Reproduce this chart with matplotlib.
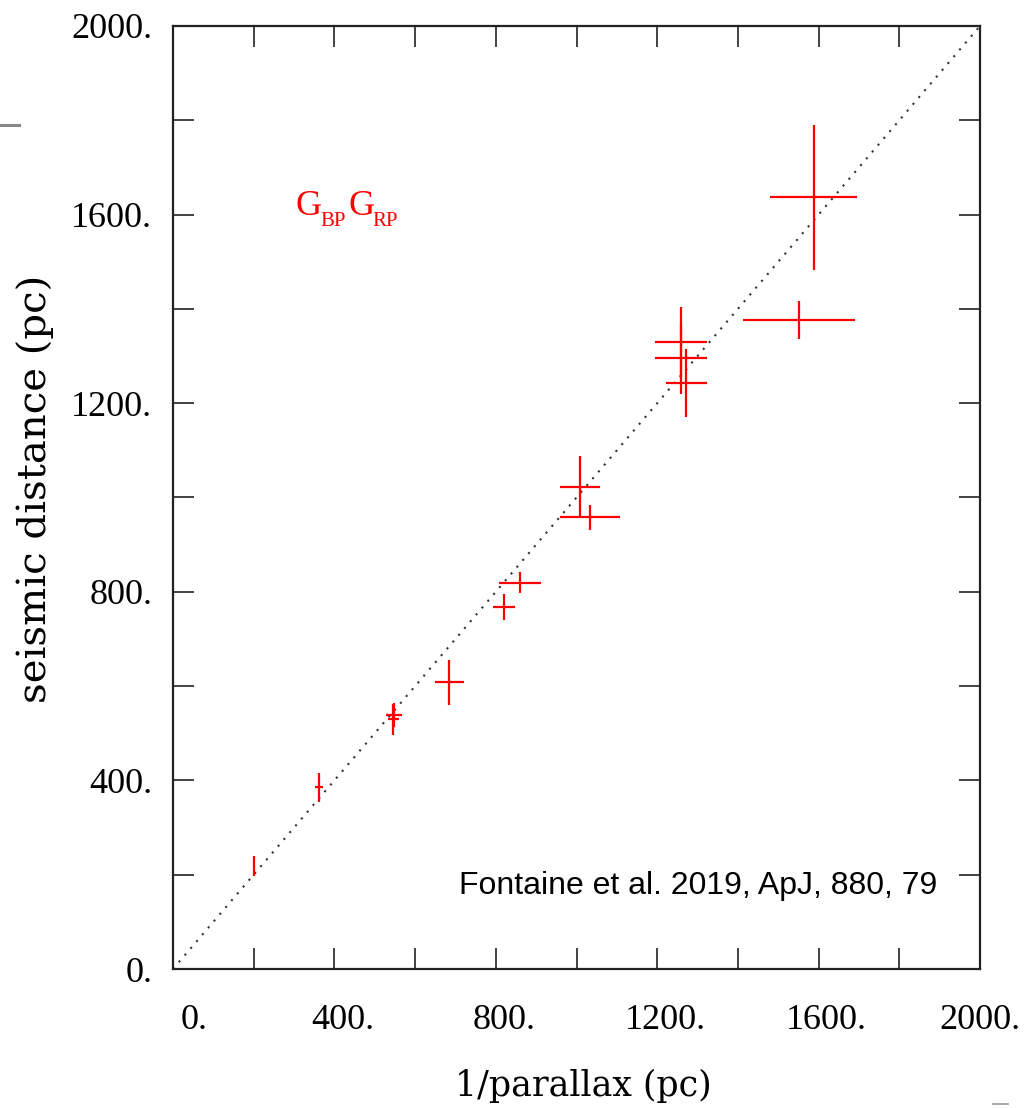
import matplotlib
matplotlib.use("Agg")
import matplotlib.pyplot as plt
import matplotlib.transforms as mtransforms
from matplotlib.lines import Line2D
import numpy as np

# 1/parallax vs seismic distance (pc)
parallax_dist = [200, 362, 548, 546, 685, 820, 860, 1009, 1034, 1259, 1259, 1272, 1551, 1588]
parallax_err = [2, 9, 19, 13, 36, 27, 51, 50, 75, 64, 64, 51, 139, 108]
seismic_dist = [218, 385, 539, 530, 608, 768, 819, 1022, 958, 1329, 1295, 1242, 1377, 1637]
seismic_err = [21, 30, 26, 33, 48, 27, 22, 66, 26, 76, 76, 72, 40, 154]

major_ticks = [0, 400, 800, 1200, 1600, 2000]
tick_labels = ["0.", "400.", "800.", "1200.", "1600.", "2000."]

serif = "Liberation Serif"

fig = plt.figure(figsize=(10.35, 11.08), dpi=100)
ax = fig.add_axes([173 / 1035, 139 / 1108, 807 / 1035, 943 / 1108])

# one-to-one line
ax.plot([0, 2000], [0, 2000], color="#333333", lw=1.5, linestyle=(0, (1, 3.3)), zorder=1)

ax.errorbar(parallax_dist, seismic_dist, xerr=parallax_err, yerr=seismic_err,
            fmt="none", ecolor="red", elinewidth=1.6, capsize=0, zorder=2)

ax.set_xlim(0, 2000)
ax.set_ylim(0, 2000)
ax.set_xticks(major_ticks)
ax.set_yticks(major_ticks)
ax.set_xticks(np.arange(200, 2000, 400), minor=True)
ax.set_yticks(np.arange(200, 2000, 400), minor=True)
ax.set_xticklabels(tick_labels, fontfamily=serif, fontsize=26)
ax.set_yticklabels(tick_labels, fontfamily=serif, fontsize=26)

ax.tick_params(which="both", direction="in", top=True, right=True,
               length=15, width=1.2, color="#222222")
ax.tick_params(axis="y", pad=15)
ax.tick_params(axis="x", pad=25)
for s in ax.spines.values():
    s.set_linewidth(1.6)
    s.set_color("#222222")

# x tick labels sit a little right of their ticks in the original
shift = mtransforms.ScaledTranslation(8 / 100, 0, fig.dpi_scale_trans)
xlabels = ax.get_xticklabels()
for lab in xlabels[:-1]:
    lab.set_transform(lab.get_transform() + shift)
xlabels[0].set_ha("left")

fig.text(583 / 1035, 1 - 1086 / 1108, "1/parallax (pc)", fontfamily="DejaVu Serif",
         fontsize=25, ha="center", va="center")
fig.text(35 / 1035, 1 - 489 / 1108, "seismic distance (pc)", fontfamily="DejaVu Serif",
         fontsize=29, ha="center", va="center", rotation=90)

# G_BP G_RP label
ax.text(303, 1599, "G", color="red", fontfamily=serif, fontsize=26, va="baseline")
ax.text(365, 1576, "BP", color="red", fontfamily=serif, fontsize=15, va="baseline")
ax.text(435, 1599, "G", color="red", fontfamily=serif, fontsize=26, va="baseline")
ax.text(494, 1576, "RP", color="red", fontfamily=serif, fontsize=15, va="baseline")

ax.text(1893, 159, "Fontaine et al. 2019, ApJ, 880, 79", fontfamily="Liberation Sans",
        fontsize=23, ha="right", va="baseline", color="black")

# stray marks from the slide
fig.add_artist(Line2D([0, 19 / 1035], [1 - 125 / 1108] * 2, color="#888888", lw=2.2))
fig.add_artist(Line2D([993 / 1035, 1008 / 1035], [1 - 1104 / 1108] * 2, color="#999999", lw=1.2))

fig.savefig("out.png", dpi=100)
